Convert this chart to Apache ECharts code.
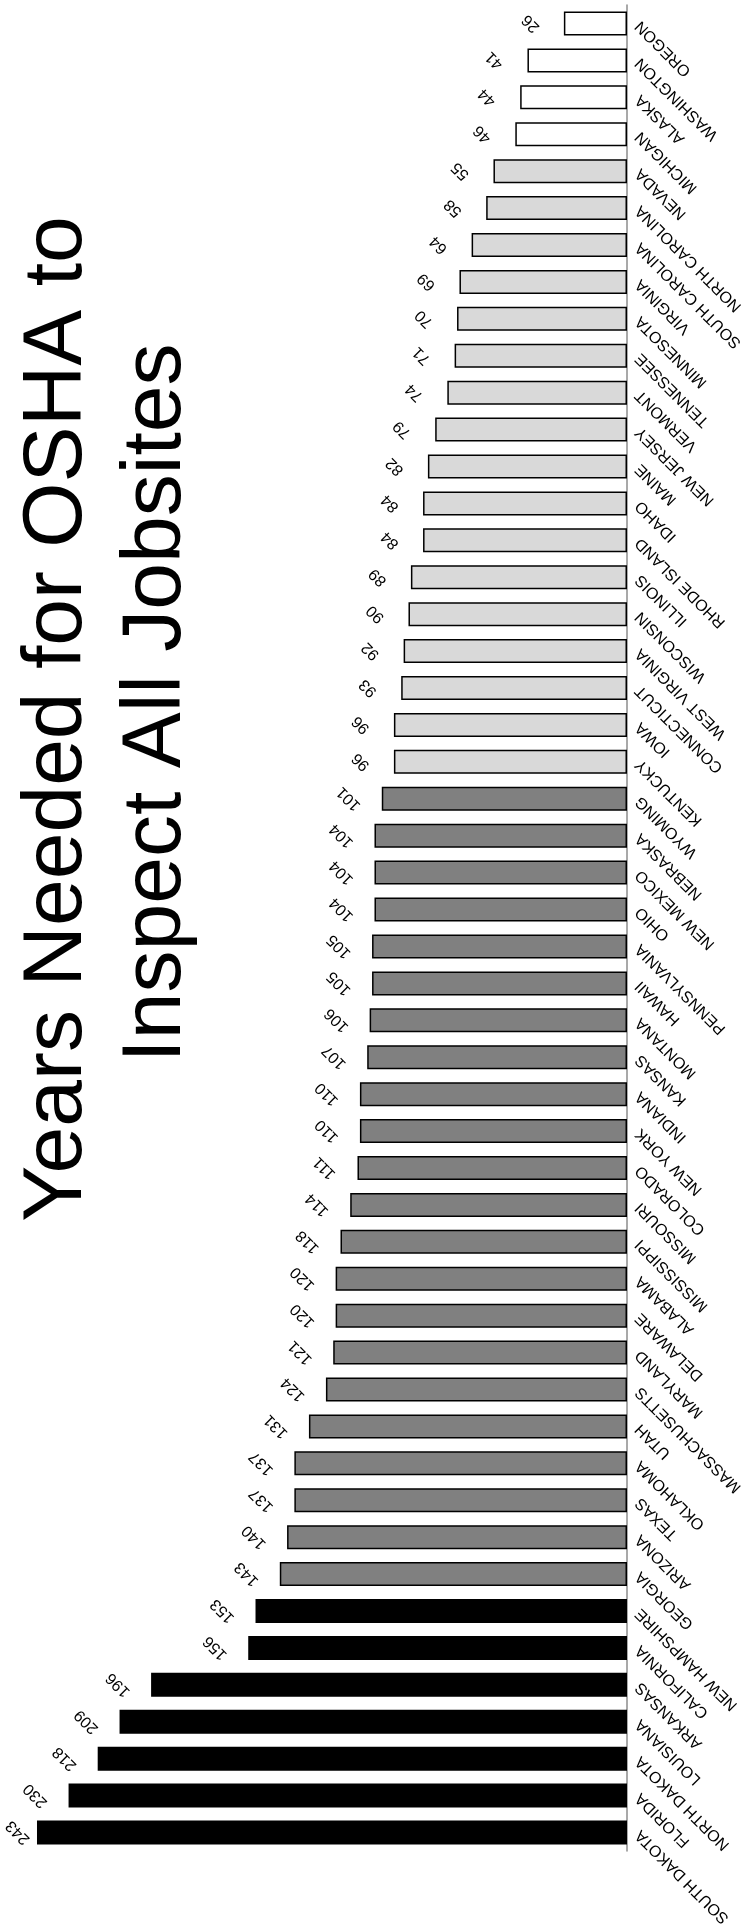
<!DOCTYPE html>
<html>
<head>
<meta charset="utf-8">
<script src="https://cdn.jsdelivr.net/npm/echarts@6/dist/echarts.min.js"></script>
<style>
  html, body { margin: 0; padding: 0; background: #fff; }
  #chart { width: 749px; height: 1930px; }
</style>
</head>
<body>
<div id="chart"></div>
<script>
// states, top to bottom as drawn
const states = [
  'OREGON', 'WASHINGTON', 'ALASKA', 'MICHIGAN', 'NEVADA', 'NORTH CAROLINA',
  'SOUTH CAROLINA', 'VIRGINIA', 'MINNESOTA', 'TENNESSEE', 'VERMONT', 'NEW JERSEY',
  'MAINE', 'IDAHO', 'RHODE ISLAND', 'ILLINOIS', 'WISCONSIN', 'WEST VIRGINIA',
  'CONNECTICUT', 'IOWA', 'KENTUCKY', 'WYOMING', 'NEBRASKA', 'NEW MEXICO', 'OHIO',
  'PENNSYLVANIA', 'HAWAII', 'MONTANA', 'KANSAS', 'INDIANA', 'NEW YORK', 'COLORADO',
  'MISSOURI', 'MISSISSIPPI', 'ALABAMA', 'DELAWARE', 'MARYLAND', 'MASSACHUSETTS',
  'UTAH', 'OKLAHOMA', 'TEXAS', 'ARIZONA', 'GEORGIA', 'NEW HAMPSHIRE', 'CALIFORNIA',
  'ARKANSAS', 'LOUISIANA', 'NORTH DAKOTA', 'FLORIDA', 'SOUTH DAKOTA'
];
// years needed for OSHA to inspect every jobsite once
const years = [
  26, 41, 44, 46, 55, 58, 64, 69, 70, 71, 74, 79, 82, 84, 84, 89, 90, 92, 93, 96,
  96, 101, 104, 104, 104, 105, 105, 106, 107, 110, 110, 111, 114, 118, 120, 120,
  121, 124, 131, 137, 137, 140, 143, 153, 156, 196, 209, 218, 230, 243
];
// bands for the fill shade
const bandLimits = [50, 100, 150];
const bandColors = ['#ffffff', '#d9d9d9', '#808080', '#000000'];

const titleLines = ['Years Needed for OSHA to', 'Inspect All Jobsites'];

function bandColor(v) {
  let i = 0;
  while (i < bandLimits.length && v >= bandLimits[i]) i++;
  return bandColors[i];
}

const FONT = '"Liberation Sans", Arial, sans-serif';
const LABEL_GAP = 33;
const chart = echarts.init(document.getElementById('chart'));

function barData(gapFor) {
  return years.map((v, i) => ({
    value: v,
    itemStyle: { color: bandColor(v) },
    label: { distance: gapFor(v, i) }
  }));
}

chart.setOption({
  animation: false,
  grid: { left: 20, right: 122, top: 5, bottom: 79 },
  xAxis: {
    type: 'value',
    inverse: true,
    min: 0,
    max: 250,
    show: false
  },
  yAxis: {
    type: 'category',
    data: states,
    inverse: true,
    position: 'right',
    axisLine: { lineStyle: { color: '#8c8c8c', width: 1.5 } },
    axisTick: { length: 5, lineStyle: { color: '#8c8c8c' } },
    axisLabel: {
      interval: 0,
      rotate: 135,
      align: 'right',
      verticalAlign: 'middle',
      margin: 11,
      fontSize: 16,
      fontFamily: FONT,
      color: '#000'
    },
    splitLine: { show: false }
  },
  series: [{
    type: 'bar',
    barCategoryGap: '35%',
    data: barData(() => LABEL_GAP),
    itemStyle: { borderColor: '#000', borderWidth: 1.5 },
    label: {
      show: true,
      position: 'left',
      align: 'center',
      verticalAlign: 'middle',
      rotate: 135,
      fontSize: 16,
      fontFamily: FONT,
      color: '#000'
    }
  }],
  graphic: [
    {
      type: 'text', x: 58, y: 719, rotation: Math.PI / 2,
      style: { text: titleLines[0], font: '84px ' + FONT, fill: '#000', textAlign: 'center', textVerticalAlign: 'middle' }
    },
    {
      type: 'text', x: 157, y: 703, rotation: Math.PI / 2,
      style: { text: titleLines[1], font: '84px ' + FONT, fill: '#000', textAlign: 'center', textVerticalAlign: 'middle' }
    }
  ]
});

// pull the label of the longest bars in so it stays on the page
chart.setOption({
  series: [{
    data: barData(v => {
      const px = chart.convertToPixel({ xAxisIndex: 0 }, v);
      return Math.min(LABEL_GAP, px - 18);
    })
  }]
});
</script>
</body>
</html>
